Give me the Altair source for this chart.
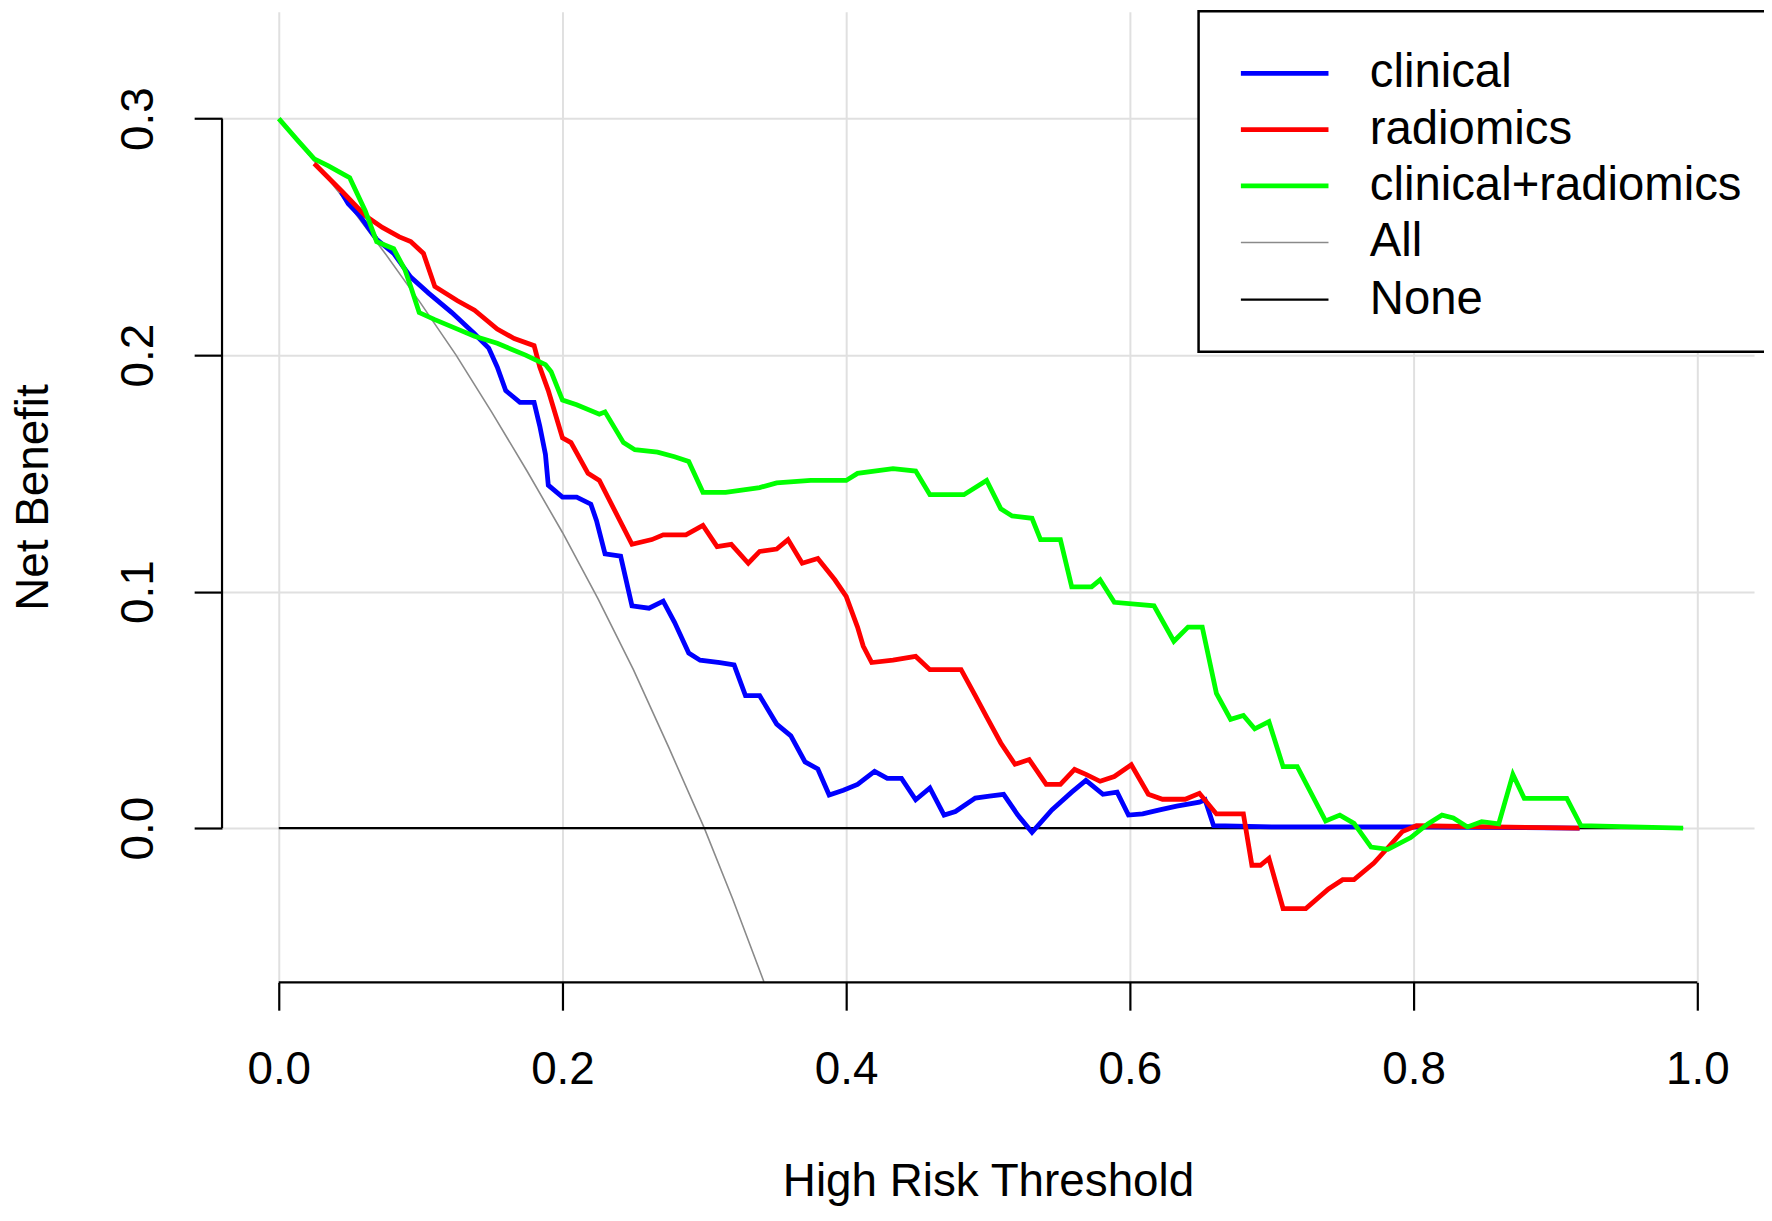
import altair as alt
import pandas as pd

series_names = ["clinical", "radiomics", "clinical+radiomics", "All", "None"]
series_colors = ["#0000FF", "#FF0000", "#00FF00", "#8A8A8A", "#000000"]
series_widths = [4.8, 4.8, 4.8, 1.6, 2.2]

clinical_x = [0.044, 0.049, 0.057, 0.069, 0.081, 0.093, 0.106, 0.122, 0.138, 0.148, 0.154, 0.160,
              0.170, 0.180, 0.184, 0.188, 0.190, 0.200, 0.210, 0.220, 0.224, 0.230, 0.241, 0.249,
              0.261, 0.271, 0.279, 0.289, 0.297, 0.311, 0.321, 0.329, 0.339, 0.351, 0.361, 0.371,
              0.380, 0.388, 0.398, 0.408, 0.420, 0.429, 0.439, 0.449, 0.459, 0.469, 0.477, 0.491,
              0.501, 0.511, 0.521, 0.531, 0.545, 0.559, 0.569, 0.581, 0.591, 0.599, 0.609, 0.621,
              0.633, 0.649, 0.653, 0.659, 0.700, 0.800, 0.917]
clinical_y = [0.269, 0.264, 0.259, 0.249, 0.243, 0.233, 0.226, 0.218, 0.209, 0.203, 0.195, 0.185,
              0.180, 0.180, 0.170, 0.158, 0.145, 0.140, 0.140, 0.137, 0.130, 0.116, 0.115, 0.094,
              0.093, 0.096, 0.087, 0.074, 0.071, 0.070, 0.069, 0.056, 0.056, 0.044, 0.039, 0.028,
              0.025, 0.014, 0.016, 0.0185, 0.024, 0.021, 0.021, 0.012, 0.017, 0.0055, 0.007, 0.0127,
              0.0135, 0.0143, 0.0055, -0.0018, 0.0077, 0.0152, 0.0202, 0.0143, 0.0152, 0.0055, 0.006, 0.0077,
              0.0093, 0.011, 0.012, 0.001, 0.0005, 0.0005, 0.0]

radiomics_x = [0.025, 0.045, 0.061, 0.073, 0.085, 0.093, 0.102, 0.110, 0.126, 0.138, 0.154, 0.166,
               0.180, 0.184, 0.190, 0.200, 0.206, 0.218, 0.226, 0.249, 0.263, 0.271, 0.287, 0.299,
               0.309, 0.319, 0.331, 0.339, 0.351, 0.359, 0.369, 0.380, 0.392, 0.400, 0.408, 0.412,
               0.418, 0.433, 0.449, 0.459, 0.481, 0.491, 0.499, 0.509, 0.519, 0.529, 0.541, 0.551,
               0.561, 0.569, 0.579, 0.589, 0.601, 0.613, 0.623, 0.639, 0.649, 0.661, 0.680, 0.686,
               0.692, 0.698, 0.708, 0.724, 0.740, 0.750, 0.758, 0.772, 0.782, 0.792, 0.802, 0.917]
radiomics_y = [0.281, 0.269, 0.259, 0.254, 0.250, 0.248, 0.243, 0.229, 0.223, 0.219, 0.211, 0.207,
               0.204, 0.195, 0.185, 0.165, 0.163, 0.150, 0.147, 0.120, 0.122, 0.124, 0.124, 0.128,
               0.119, 0.120, 0.112, 0.117, 0.118, 0.122, 0.112, 0.114, 0.105, 0.098, 0.085, 0.077,
               0.070, 0.071, 0.0726, 0.067, 0.067, 0.056, 0.047, 0.036, 0.027, 0.029, 0.0185, 0.0185,
               0.0248, 0.0227, 0.0198, 0.0218, 0.0268, 0.0143, 0.0122, 0.0122, 0.0147, 0.006, 0.006, -0.0157,
               -0.0157, -0.0128, -0.034, -0.034, -0.0257, -0.0218, -0.0218, -0.0148, -0.0082, -0.0015, 0.0010, 0.0]

combined_x = [0.000, 0.013, 0.025, 0.035, 0.047, 0.050, 0.061, 0.069, 0.081, 0.089, 0.093, 0.099,
              0.110, 0.126, 0.138, 0.154, 0.174, 0.188, 0.192, 0.200, 0.210, 0.226, 0.230, 0.243,
              0.251, 0.267, 0.279, 0.289, 0.299, 0.315, 0.339, 0.351, 0.375, 0.400, 0.408, 0.433,
              0.449, 0.459, 0.483, 0.499, 0.509, 0.517, 0.531, 0.537, 0.551, 0.559, 0.573, 0.579,
              0.589, 0.617, 0.631, 0.641, 0.651, 0.661, 0.671, 0.680, 0.688, 0.698, 0.708, 0.718,
              0.738, 0.748, 0.758, 0.770, 0.782, 0.798, 0.810, 0.820, 0.828, 0.838, 0.848, 0.860,
              0.870, 0.878, 0.908, 0.918, 0.990]
combined_y = [0.300, 0.291, 0.283, 0.280, 0.276, 0.275, 0.261, 0.248, 0.245, 0.236, 0.229, 0.218,
              0.215, 0.211, 0.208, 0.205, 0.200, 0.196, 0.193, 0.181, 0.179, 0.175, 0.176, 0.163,
              0.160, 0.159, 0.157, 0.155, 0.142, 0.142, 0.144, 0.146, 0.147, 0.147, 0.150, 0.152,
              0.151, 0.141, 0.141, 0.147, 0.135, 0.132, 0.131, 0.122, 0.122, 0.102, 0.102, 0.105,
              0.0955, 0.094, 0.079, 0.085, 0.085, 0.057, 0.046, 0.0476, 0.042, 0.045, 0.026, 0.026,
              0.003, 0.0055, 0.002, -0.008, -0.009, -0.004, 0.0018, 0.0055, 0.0043, 0.0005, 0.0027, 0.0018,
              0.0227, 0.0126, 0.0126, 0.001, 0.0]

all_x = [0.000, 0.025, 0.050, 0.075, 0.100, 0.125, 0.150, 0.175, 0.200, 0.225, 0.250, 0.275,
         0.300, 0.320, 0.342]
all_y = [0.300, 0.282, 0.263, 0.243, 0.222, 0.200, 0.176, 0.151, 0.125, 0.097, 0.067, 0.034,
         0.000, -0.030, -0.065]

none_x = [0.0, 0.99]
none_y = [0.0, 0.0]

x_ticks = [0.0, 0.2, 0.4, 0.6, 0.8, 1.0]
y_ticks = [0.0, 0.1, 0.2, 0.3]
x_domain = [-0.04, 1.04]
y_domain = [-0.0652, 0.3452]

# axis lines span only the tick range (base-R style)
x_axis_line = pd.DataFrame({"t": [0.0], "t2": [1.0], "nb": [y_domain[0]]})
y_axis_line = pd.DataFrame({"t": [x_domain[0]], "nb": [0.0], "nb2": [0.3]})

rows = []
for name, xs, ys in [("clinical", clinical_x, clinical_y),
                     ("radiomics", radiomics_x, radiomics_y),
                     ("clinical+radiomics", combined_x, combined_y),
                     ("All", all_x, all_y),
                     ("None", none_x, none_y)]:
    for i, (a, b) in enumerate(zip(xs, ys)):
        rows.append({"series": name, "t": a, "nb": b, "i": i})
df = pd.DataFrame(rows)

FONT = "Liberation Sans"

x_scale = alt.Scale(domain=x_domain, nice=False, zero=False)
y_scale = alt.Scale(domain=y_domain, nice=False, zero=False)

x_axis = alt.Axis(values=x_ticks, format=".1f", title="High Risk Threshold", domain=False,
                  grid=True, gridColor="#e0e0e0", gridWidth=2,
                  ticks=True, tickSize=28, tickWidth=2.2, tickColor="black",
                  labelFontSize=46, labelFont=FONT, labelColor="black", labelPadding=60,
                  labelBaseline="middle", labelAlign="center", labelFlush=False,
                  titleFontSize=46, titleFont=FONT, titleFontWeight="normal", titleColor="black",
                  titleY=200, titleBaseline="middle")
y_axis = alt.Axis(values=y_ticks, format=".1f", title="Net Benefit", domain=False,
                  grid=True, gridColor="#e0e0e0", gridWidth=2,
                  ticks=True, tickSize=28, tickWidth=2.2, tickColor="black",
                  labelFontSize=46, labelFont=FONT, labelColor="black", labelPadding=56,
                  labelAngle=270, labelBaseline="middle", labelAlign="center", labelFlush=False,
                  titleFontSize=46, titleFont=FONT, titleFontWeight="normal", titleColor="black",
                  titleX=-189, titleAngle=270, titleBaseline="middle")

legend = alt.Legend(title=" ", titleFontSize=1, titlePadding=9,
                    orient="none", legendX=981, legendY=-0.5,
                    symbolType="M-2,0H2", symbolSize=1936, symbolOffset=34,
                    labelOffset=61, labelFontSize=47.5, labelFont=FONT, labelColor="black",
                    labelLimit=1000, padding=28, rowPadding=8.5,
                    strokeColor="black", fillColor="white")

color = alt.Color("series:N", scale=alt.Scale(domain=series_names, range=series_colors), legend=legend)
width = alt.StrokeWidth("series:N", scale=alt.Scale(type="ordinal", domain=series_names, range=series_widths),
                        legend=legend)

base = alt.Chart(df).encode(
    x=alt.X("t:Q", scale=x_scale, axis=x_axis),
    y=alt.Y("nb:Q", scale=y_scale, axis=y_axis),
    color=color,
    strokeWidth=width,
    order="i:Q",
)

layers = []
for name in ["All", "None", "clinical", "radiomics", "clinical+radiomics"]:
    layers.append(base.transform_filter(alt.datum.series == name).mark_line(clip=True))

xline = alt.Chart(x_axis_line).mark_rule(color="black", strokeWidth=2.2).encode(
    x=alt.X("t:Q", scale=x_scale, axis=x_axis), x2="t2:Q",
    y=alt.Y("nb:Q", scale=y_scale, axis=y_axis))
yline = alt.Chart(y_axis_line).mark_rule(color="black", strokeWidth=2.2).encode(
    x=alt.X("t:Q", scale=x_scale, axis=x_axis),
    y=alt.Y("nb:Q", scale=y_scale, axis=y_axis), y2="nb2:Q")

chart = alt.layer(*layers, xline, yline).properties(
    width=1539, height=975,
    autosize=alt.AutoSizeParams(type="none"),
    padding={"left": 215, "top": 1, "right": 10, "bottom": 230},
    background="white",
).configure_view(stroke=None).configure_legend(strokeWidth=2.5)

chart.save("out.html", embed_options={"renderer": "svg", "actions": False})
